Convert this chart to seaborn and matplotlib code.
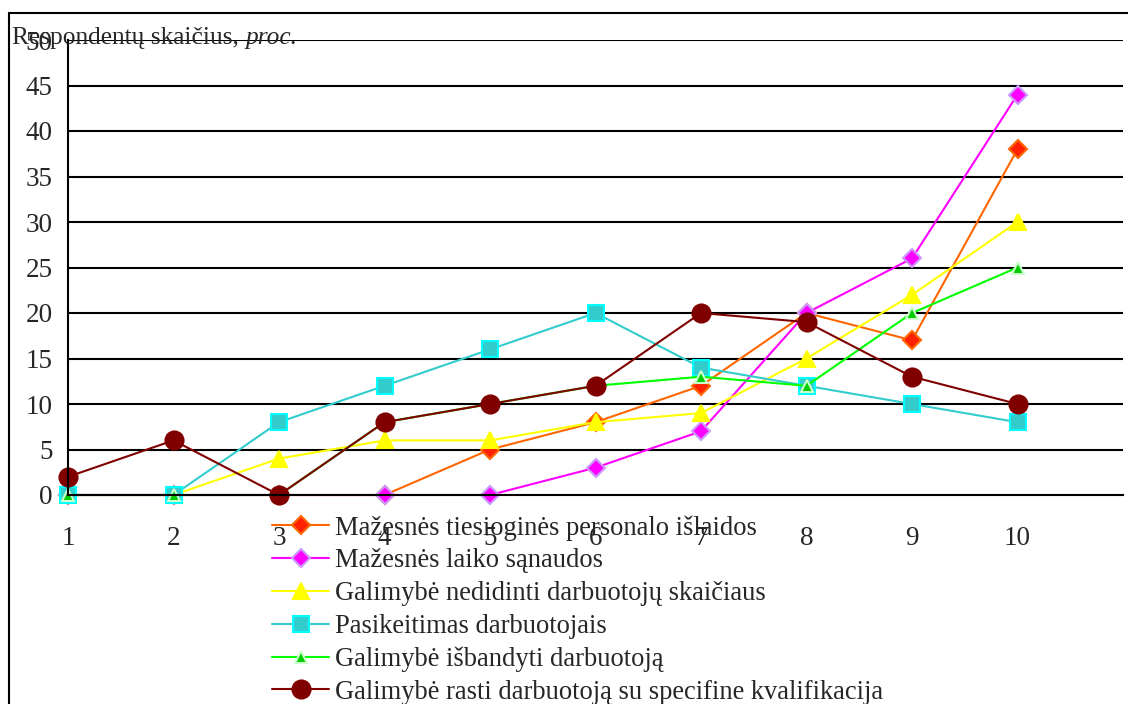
import numpy as np
import pandas as pd
import matplotlib
matplotlib.use("Agg")
import matplotlib.pyplot as plt
import seaborn as sns
from matplotlib.lines import Line2D

x = list(range(1, 11))
tiesiogines = [0, 0, 0, 0, 5, 8, 12, 20, 17, 38]
laiko = [0, 0, 0, 0, 0, 3, 7, 20, 26, 44]
nedidinti = [0, 0, 4, 6, 6, 8, 9, 15, 22, 30]
pasikeitimas = [0, 0, 8, 12, 16, 20, 14, 12, 10, 8]
isbandyti = [0, 0, 0, 8, 10, 12, 13, 12, 20, 25]
rasti = [2, 6, 0, 8, 10, 12, 20, 19, 13, 10]

names = ["Mažesnės tiesioginės personalo išlaidos",
         "Mažesnės laiko sąnaudos",
         "Galimybė nedidinti darbuotojų skaičiaus",
         "Pasikeitimas darbuotojais",
         "Galimybė išbandyti darbuotoją",
         "Galimybė rasti darbuotoją su specifine kvalifikacija"]
values = [tiesiogines, laiko, nedidinti, pasikeitimas, isbandyti, rasti]

# line colour, marker, marker face, marker edge, marker size
styles = [("#FF6600", "D", "#FF2200", "#FF6600", 9),
          ("#FF00FF", "D", "#FF00FF", "#CC99FF", 9),
          ("#FFFF00", "^", "#FFFF00", "#FFFF00", 11),
          ("#33CCCC", "s", "#33CCCC", "#00FFFF", 11),
          ("#00FF00", "^", "#00CC00", "#CCFFCC", 8),
          ("#800000", "o", "#800000", "#800000", 13)]

sns.set_style("white")
plt.rcParams['font.family'] = ['Liberation Serif', 'DejaVu Serif']
fs = 19.5

fig = plt.figure(figsize=(11.28, 7.04), dpi=100)
ax = fig.add_axes([68/1128, 1-495/704, (1123-68)/1128, (495-40)/704])

handles = []
for name, vals, (c, m, fc, ec, ms) in zip(names, values, styles):
    sns.lineplot(x=x, y=vals, ax=ax, color=c, marker=m, markersize=ms,
                 markerfacecolor=fc, markeredgecolor=ec, markeredgewidth=1.5,
                 linewidth=1.5, legend=False, clip_on=False)
    handles.append(Line2D([0], [0], color=c, marker=m, markersize=ms,
                          markerfacecolor=fc, markeredgecolor=ec,
                          markeredgewidth=1.5, linewidth=1.5, label=name))

ax.set_xlim(1, 11)
ax.set_ylim(0, 50)
ax.set_yticks(range(0, 51, 5))
ax.set_xticks(range(1, 12))
ax.set_xticklabels([str(i) for i in x] + [""])
for yv in range(5, 51, 5):
    ax.axhline(yv, color="black", linewidth=1.5, zorder=0)
for s in ["top", "right"]:
    ax.spines[s].set_visible(False)
for s in ["left", "bottom"]:
    ax.spines[s].set_color("black")
    ax.spines[s].set_linewidth(1.5)
ax.tick_params(axis="y", direction="out", length=7, width=1.2, labelsize=fs, pad=4)
ax.tick_params(axis="x", direction="out", length=5, width=1.2, labelsize=fs, pad=17)
ax.set_xlabel("")
ax.set_ylabel("")
ax.set_facecolor("none")

t1 = fig.text(12/1128, 1-38/704, "Respondentų skaičius, ", fontsize=18.3, va="center", ha="left")
fig.canvas.draw()
bb = t1.get_window_extent()
fig.text(bb.x1/1128, 1-38/704, "proc.", fontsize=18.3, style="italic", va="center", ha="left")

fig.legend(handles=handles, loc="upper left", bbox_to_anchor=(259/1128, 1-502/704),
           frameon=False, fontsize=19.1, handlelength=2.15, handletextpad=0.2,
           labelspacing=0.29, borderpad=0)

# outer frame
fig.add_artist(Line2D([9/1128, 9/1128], [0, 1-13/704], transform=fig.transFigure, color="black", linewidth=1.5))
fig.add_artist(Line2D([9/1128, 1.01], [1-13/704, 1-13/704], transform=fig.transFigure, color="black", linewidth=1.5))

fig.savefig("out.png", dpi=100)
